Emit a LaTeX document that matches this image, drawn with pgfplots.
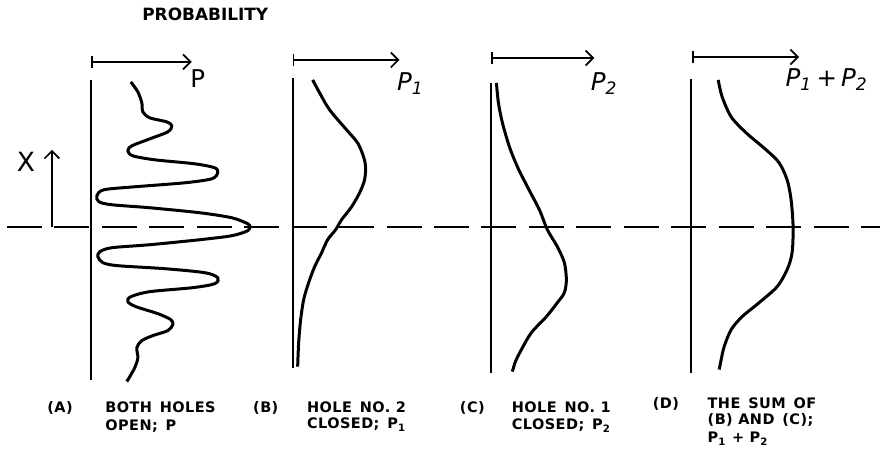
\documentclass[border=0pt]{standalone}
\usepackage{pgfplots}
\pgfplotsset{compat=1.18}
\usepackage{graphicx}
\usepackage{fontspec}
\setmainfont{DejaVu Sans}
\newfontfamily\lett[LetterSpace=3]{DejaVu Sans}
\usetikzlibrary{arrows.meta}

% curves, (probability, position) in picture units
\pgfplotstableread{
x y
131 82
138 92
142 103
143 112
150 118
167 122
172 126
168 132
150 139
132 146
128 151
133 156
155 160
195 164
215 168
218 173
212 179
185 183
135 187
104 190
97 196
99 202
112 205
150 208
200 213
232 218
248 224
250 227
248 231
232 236
200 240
150 245
112 248
100 252
98 257
103 263
118 266
165 269
205 273
218 278
215 284
193 288
150 292
131 297
128 302
136 307
158 314
171 320
173 325
168 331
153 336
142 341
137 348
138 358
135 368
127 382
}\both
\pgfplotstableread{
x y
313 80
320 93
330 110
347 130
358 143
364 157
366 167
365 180
360 193
352 207
342 220
336 230
328 240
322 253
315 267
309 283
304 300
301 320
299 343
298 367
}\onep
\pgfplotstableread{
x y
497 83
499 103
503 123
510 147
518 167
528 187
540 210
548 230
558 247
565 263
567 280
565 293
558 303
547 317
532 333
522 350
516 362
513 372
}\twop
\pgfplotstableread{
x y
719 80
723 97
732 117
747 133
767 150
780 163
788 180
792 200
794 227
793 253
788 270
778 287
760 303
743 317
732 330
725 347
722 360
720 370
}\sump

\begin{document}
\begin{tikzpicture}[
  capt/.style={font=\lett\bfseries\fontsize{5.8}{6}\selectfont, anchor=west, inner sep=0pt},
  plab/.style={font=\fontsize{9.8}{11}\selectfont, inner sep=0pt},
  parrow/.style={line width=0.7pt, {Bar[width=5pt]}-{Straight Barb[length=3pt,width=6pt]}}]
\begin{axis}[scale only axis, width=352.4pt, height=180.4pt,
  xmin=0, xmax=881, ymin=0, ymax=451, y dir=reverse,
  hide axis, clip=false,
  every axis plot/.append style={black}]
\path (axis cs:0,0) rectangle (axis cs:881,451);

% dashed reference line
\addplot[line width=0.8pt, dash pattern=on 14pt off 5pt] coordinates {(7,227) (881,227)};

% vertical axes
\addplot[line width=0.8pt] coordinates {(91,80) (91,380)};
\addplot[line width=0.8pt] coordinates {(293,78) (293,368)};
\addplot[line width=0.8pt] coordinates {(492,83) (492,373)};
\addplot[line width=0.8pt] coordinates {(692,79) (692,373)};

% probability arrows
\addplot[parrow] coordinates {(91,62) (192,62)};
\addplot[parrow] coordinates {(293,60) (400,60)};
\addplot[parrow] coordinates {(492,58) (595,58)};
\addplot[parrow] coordinates {(693,57) (800,57)};

% X arrow
\addplot[line width=0.7pt, -{Straight Barb[length=3pt,width=6pt]}] coordinates {(52,227) (52,150)};

% curves
\addplot[line width=1.2pt, smooth] table {\both};
\addplot[line width=1.2pt, smooth] table {\onep};
\addplot[line width=1.2pt, smooth] table {\twop};
\addplot[line width=1.2pt, smooth] table {\sump};

% labels
\node[anchor=west, inner sep=0pt] at (axis cs:142,14) {\resizebox{50.4pt}{!}{\bfseries PROBABILITY}};
\node[font=\fontsize{10.6}{11}\selectfont, inner sep=0pt] at (axis cs:26,162) {X};
\node[plab] at (axis cs:198,79) {P};
\node[plab, anchor=west] at (axis cs:397,84) {\itshape P\textsubscript{1}};
\node[plab, anchor=west] at (axis cs:591,84) {\itshape P\textsubscript{2}};
\node[plab, anchor=west] at (axis cs:786,80) {\itshape P\textsubscript{1}\,+\,P\textsubscript{2}};

% captions
\node[capt] at (axis cs:47,408) {(A)};
\node[capt] at (axis cs:105,408) {BOTH\, HOLES};
\node[capt] at (axis cs:105,427) {OPEN;\, P};
\node[capt] at (axis cs:253,408) {(B)};
\node[capt] at (axis cs:307,408) {HOLE\, NO. 2};
\node[capt] at (axis cs:307,425) {CLOSED;\, P\textsubscript{1}};
\node[capt] at (axis cs:460,408) {(C)};
\node[capt] at (axis cs:512,408) {HOLE\, NO. 1};
\node[capt] at (axis cs:512,426) {CLOSED;\, P\textsubscript{2}};
\node[capt] at (axis cs:653,404) {(D)};
\node[capt] at (axis cs:708,404) {THE\, SUM\, OF};
\node[capt] at (axis cs:708,421) {(B) AND\, (C);};
\node[capt] at (axis cs:708,439) {P\textsubscript{1} + P\textsubscript{2}};
\end{axis}
\end{tikzpicture}
\end{document}
